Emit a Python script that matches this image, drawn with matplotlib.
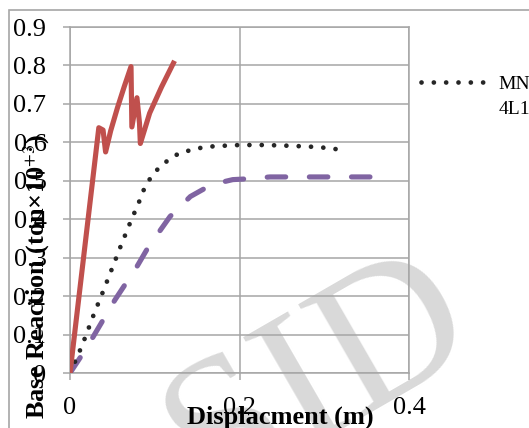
import matplotlib
matplotlib.use("Agg")
import matplotlib.pyplot as plt
from matplotlib.lines import Line2D
from matplotlib.patches import Rectangle

plt.rcParams['font.family'] = ['Liberation Serif', 'DejaVu Serif']
plt.rcParams['mathtext.fontset'] = 'stix'

# curves (displacement m, base reaction ton x 10^3)
red_x = [0, 0.034, 0.039, 0.042, 0.048, 0.056, 0.064, 0.072, 0.073, 0.079, 0.082, 0.083, 0.094, 0.108, 0.122]
red_y = [0, 0.638, 0.632, 0.575, 0.63, 0.69, 0.745, 0.797, 0.64, 0.716, 0.65, 0.597, 0.676, 0.744, 0.806]

dot_x = [0, 0.012, 0.018, 0.028, 0.039, 0.050, 0.060, 0.071, 0.077, 0.083, 0.088, 0.096, 0.105,
         0.116, 0.129, 0.143, 0.157, 0.171, 0.2, 0.23, 0.26, 0.29, 0.31, 0.319]
dot_y = [0, 0.06, 0.093, 0.152, 0.212, 0.274, 0.331, 0.391, 0.422, 0.453, 0.482, 0.511, 0.534,
         0.554, 0.572, 0.58, 0.587, 0.59, 0.593, 0.593, 0.591, 0.588, 0.584, 0.58]

pur_x = [0, 0.012, 0.027, 0.053, 0.079, 0.092, 0.118, 0.142, 0.167, 0.192, 0.209, 0.236, 0.30, 0.362]
pur_y = [0, 0.04, 0.093, 0.19, 0.277, 0.326, 0.407, 0.459, 0.49, 0.503, 0.505, 0.51, 0.51, 0.51]

y_ticks = [0, 0.1, 0.2, 0.3, 0.4, 0.5, 0.6, 0.7, 0.8, 0.9]
y_labels = ["0", "0.1", "0.2", "0.3", "0.4", "0.5", "0.6", "0.7", "0.8", "0.9"]
x_ticks = [0, 0.2, 0.4]
x_labels = ["0", "0.2", "0.4"]
legend_lines = ["MNL-S", "4L1S"]

W, H = 529, 428
fig = plt.figure(figsize=(W / 100, H / 100), dpi=100)
ax = fig.add_axes([70 / W, 1 - 373 / H, 339 / W, 346 / H])
ax.set_facecolor('none')

grey = '#a6a6a6'
ax.plot(pur_x, pur_y, color='#8064a2', lw=3.7, linestyle=(0, (3.6, 4.6)),
        dash_capstyle='round', zorder=3)
ax.plot(dot_x, dot_y, color='#262626', lw=3.4, linestyle=(0, (0.01, 2.6)),
        dash_capstyle='round', zorder=4)
ax.plot(red_x, red_y, color='#c0504d', lw=3.7, zorder=5)

ax.set_xlim(0, 0.4)
ax.set_ylim(0, 0.9)
ax.set_xticks(x_ticks)
ax.set_xticklabels(x_labels)
ax.set_yticks(y_ticks)
ax.set_yticklabels(y_labels)
ax.grid(True, color=grey, lw=1.1)
ax.set_axisbelow(True)
for s in ax.spines.values():
    s.set_color(grey)
    s.set_linewidth(1.1)
ax.tick_params(axis='both', length=5, width=1.1, color=grey, labelsize=19)
ax.tick_params(axis='y', pad=12)
ax.tick_params(axis='x', pad=12)

fig.text(280 / W, 4 / H, "Displacment (m)", fontsize=19, fontweight='bold',
         ha='center', va='baseline')
fig.text(37 / W, 9 / H, "Base Reaction (ton×10$^{+3}$)", fontsize=19,
         fontweight='bold', rotation=90, ha='center', va='bottom')

# watermark and outer border
fig.text(320 / W, 1 - 380 / H, "SID", rotation=30, fontsize=142, color='#d9d9d9',
         ha='center', va='center', rotation_mode='anchor', zorder=-1)
fig.patches.append(Rectangle((9 / W, -0.5), 2, 0.5 + 1 - 10 / H, transform=fig.transFigure,
                             fill=False, ec=grey, lw=1.2))

handles = [Line2D([], [], color='#262626', lw=3.4, linestyle=(0, (0.01, 2.6)),
                  dash_capstyle='round'),
           Line2D([], [], color='none')]
fig.legend(handles, legend_lines, loc='upper left', bbox_to_anchor=(421 / W, 1 - 75 / H),
           frameon=False, fontsize=14, handlelength=3.5, handletextpad=0.5,
           borderpad=0, borderaxespad=0, labelspacing=0.4)

fig.savefig("out.png", dpi=100)
